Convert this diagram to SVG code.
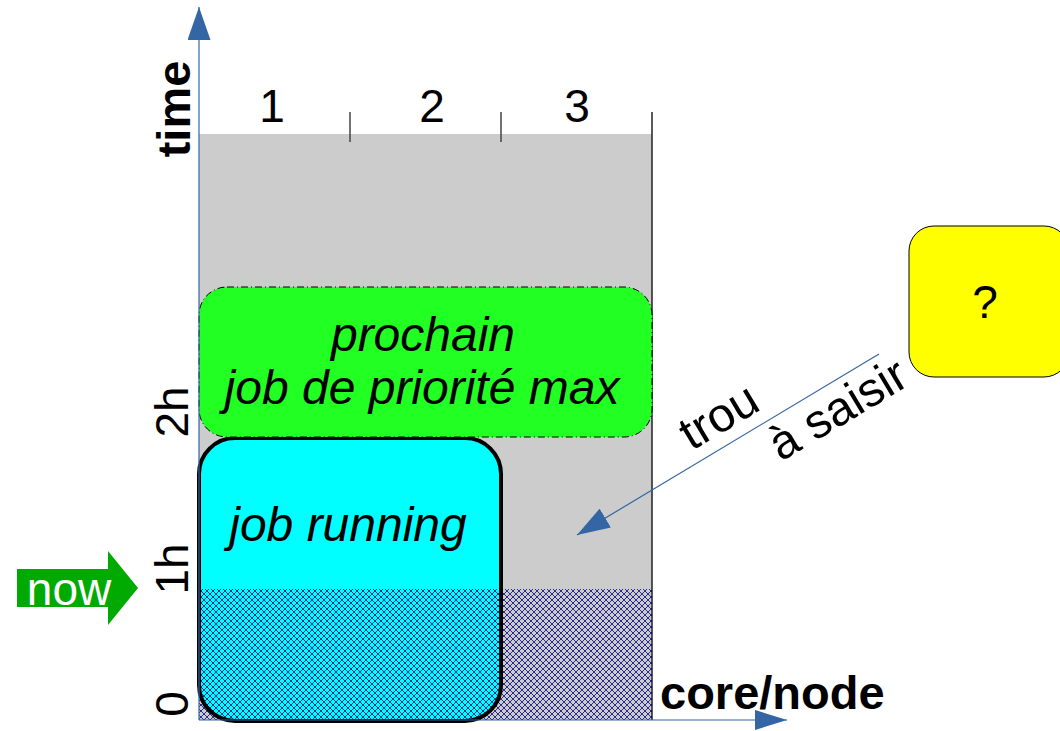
<svg xmlns="http://www.w3.org/2000/svg" width="1060" height="731" viewBox="0 0 1060 731">
  <style>
    .lbl { font-family: "Liberation Sans", Arial, sans-serif; fill: #000; }
    .big { font-size: 46px; }
    .it { font-style: italic; font-size: 48px; }
    .bold { font-weight: bold; font-size: 47px; }
    .axis { stroke: #3465a4; stroke-width: 1.2; fill: none; }
    .tick { stroke: #444; stroke-width: 1.5; }
  </style>
  <defs>
    <pattern id="hatch" patternUnits="userSpaceOnUse" width="6" height="6">
      <path d="M0,0 L6,6 M0,6 L6,0" stroke="#000080" stroke-width="0.8"/>
    </pattern>
    <marker id="headUp" markerUnits="userSpaceOnUse" viewBox="0 0 33 23" refX="33" refY="11.5" markerWidth="33" markerHeight="23" orient="auto">
      <path d="M0,0 L33,11.5 L0,23 z" fill="#3465a4"/>
    </marker>
    <marker id="headRight" markerUnits="userSpaceOnUse" viewBox="0 0 32 20" refX="32" refY="10" markerWidth="32" markerHeight="20" orient="auto">
      <path d="M0,0 L32,10 L0,20 z" fill="#3465a4"/>
    </marker>
    <marker id="headDiag" markerUnits="userSpaceOnUse" viewBox="0 0 33 22" refX="33" refY="11" markerWidth="33" markerHeight="22" orient="auto">
      <path d="M0,0 L33,11 L0,22 z" fill="#3465a4"/>
    </marker>
  </defs>

  <!-- schedule area -->
  <g id="schedule">
    <rect x="199" y="134" width="453" height="586" fill="#cccccc"/>
    <line class="tick" x1="350" y1="112" x2="350" y2="142"/>
    <line class="tick" x1="501" y1="112" x2="501" y2="142"/>
    <line x1="652" y1="112" x2="652" y2="720" stroke="#222" stroke-width="1.5"/>
    <text class="lbl big" x="272" y="122" text-anchor="middle">1</text>
    <text class="lbl big" x="432" y="122" text-anchor="middle">2</text>
    <text class="lbl big" x="577" y="122" text-anchor="middle">3</text>
  </g>

  <!-- running job -->
  <g id="job-running">
    <rect x="199" y="438" width="302" height="283" rx="36" ry="36" fill="#00ffff"/>
  </g>

  <!-- elapsed time (hatched) -->
  <g id="past">
    <rect x="199" y="589" width="453" height="131" fill="url(#hatch)"/>
  </g>

  <g id="job-running-outline">
    <rect x="199" y="438" width="302" height="283" rx="36" ry="36" fill="none" stroke="#000" stroke-width="4"/>
    <text class="lbl it" x="348" y="541" text-anchor="middle">job running</text>
  </g>

  <!-- next job -->
  <g id="next-job">
    <rect x="199" y="287" width="453" height="150" rx="28" ry="28" fill="#22ff22" stroke="#000" stroke-width="1" stroke-dasharray="7 3 1 3"/>
    <text class="lbl it" x="423" y="351" text-anchor="middle">prochain</text>
    <text class="lbl it" x="422" y="404" text-anchor="middle">job de priorité max</text>
  </g>

  <!-- unknown job -->
  <g id="unknown">
    <rect x="909" y="226" width="160" height="151" rx="25" ry="25" fill="#ffff00" stroke="#000" stroke-width="1"/>
    <text class="lbl big" x="985" y="318" text-anchor="middle">?</text>
  </g>

  <!-- axis labels -->
  <g id="axis-labels">
    <text class="lbl bold" transform="translate(190,109) rotate(-90)" text-anchor="middle">time</text>
    <text class="lbl big" transform="translate(188,412) rotate(-90)" text-anchor="middle">2h</text>
    <text class="lbl big" transform="translate(188,569) rotate(-90)" text-anchor="middle">1h</text>
    <text class="lbl big" transform="translate(188,704) rotate(-90)" text-anchor="middle">0</text>
    <text class="lbl bold" x="660" y="709">core/node</text>
  </g>

  <!-- now marker -->
  <g id="now">
    <path d="M17,569 L108,569 L108,551 L138,588 L108,625 L108,607 L17,607 z" fill="#00aa00"/>
    <text class="lbl" x="69" y="605" text-anchor="middle" font-size="46" style="fill:#ffffff">now</text>
  </g>

  <!-- connectors -->
  <g id="connectors">
    <line class="axis" x1="199" y1="720" x2="199" y2="7" marker-end="url(#headUp)"/>
    <line class="axis" x1="199" y1="720" x2="787" y2="720" marker-end="url(#headRight)"/>
    <line class="axis" x1="879" y1="354" x2="577" y2="535" marker-end="url(#headDiag)"/>
    <text class="lbl" font-size="48" transform="translate(727,430) rotate(-30.9)" text-anchor="middle">trou</text>
    <text class="lbl" font-size="48" transform="translate(846,423) rotate(-30.9)" text-anchor="middle">à saisir</text>
  </g>
</svg>
